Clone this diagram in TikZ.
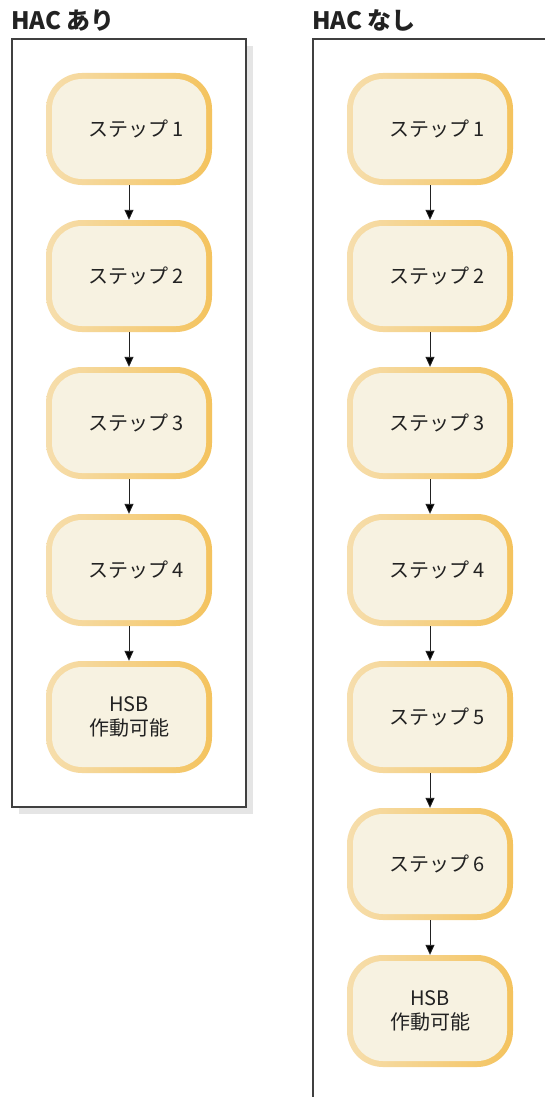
\documentclass[tikz,border=0pt]{standalone}
\usepackage{fontspec}
\setmainfont{Noto Sans CJK JP}
\usepackage{xcolor}
\usepackage{tikz}
\usetikzlibrary{positioning}
\usetikzlibrary{arrows.meta}

\definecolor{edgelight}{HTML}{F6DEAD}
\definecolor{edgedark}{HTML}{F4C35E}
\definecolor{boxfill}{HTML}{F7F2E1}
\definecolor{framegray}{HTML}{404040}
\definecolor{shadowgray}{HTML}{E5E5E5}
\definecolor{inkgray}{HTML}{222222}

\begin{document}
\begin{tikzpicture}
                [x=1pt, y=-1pt,
                 stepbox/.style = {minimum width=166pt, minimum height=112pt, inner sep=0pt,
                    rounded corners=36pt, left color=edgelight, right color=edgedark,
                    text=inkgray, font=\fontsize{20}{24}\selectfont, align=center,
                    path picture={\fill[boxfill, rounded corners=30pt]
                        ([shift={(6pt,6pt)}]path picture bounding box.south west) rectangle
                        ([shift={(-6pt,-6pt)}]path picture bounding box.north east);}},
                 flow/.style = {draw=inkgray, line width=0.9pt, -{Triangle[length=10pt,width=9pt]}},
                 title/.style = {anchor=base west, inner sep=0pt, text=inkgray,
                    font=\fontsize{24}{24}\selectfont\bfseries}]
                \useasboundingbox (0,0) rectangle (545,1097);
                % Titles
                \node[title] (tl) at (11,30) {HAC あり};
                \node[title] (tr) at (312,30) {HAC なし};
                % Frames
                \fill[shadowgray] (19,46) rectangle (253,814);
                \draw[framegray, line width=1.3pt, fill=white] (12,39) rectangle (246,807);
                \draw[framegray, line width=1.3pt] (313,1097) |- (545,39);
                % Steps with HAC
                \node[stepbox] (l1) at (129,129) {\hspace*{14pt}ステップ 1};
                \node[stepbox] (l2) at (129,276) {\hspace*{14pt}ステップ 2};
                \node[stepbox] (l3) at (129,423) {\hspace*{14pt}ステップ 3};
                \node[stepbox] (l4) at (129,570) {\hspace*{14pt}ステップ 4};
                \node[stepbox] (l5) at (129,717) {HSB\\作動可能};
                % Steps without HAC
                \node[stepbox] (r1) at (430,129) {\hspace*{14pt}ステップ 1};
                \node[stepbox] (r2) at (430,276) {\hspace*{14pt}ステップ 2};
                \node[stepbox] (r3) at (430,423) {\hspace*{14pt}ステップ 3};
                \node[stepbox] (r4) at (430,570) {\hspace*{14pt}ステップ 4};
                \node[stepbox] (r5) at (430,717) {\hspace*{14pt}ステップ 5};
                \node[stepbox] (r6) at (430,864) {\hspace*{14pt}ステップ 6};
                \node[stepbox] (r7) at (430,1011) {HSB\\作動可能};
                % Arrows
                \path[flow] (l1) edge (l2);
                \path[flow] (l2) edge (l3);
                \path[flow] (l3) edge (l4);
                \path[flow] (l4) edge (l5);
                \path[flow] (r1) edge (r2);
                \path[flow] (r2) edge (r3);
                \path[flow] (r3) edge (r4);
                \path[flow] (r4) edge (r5);
                \path[flow] (r5) edge (r6);
                \path[flow] (r6) edge (r7);
            \end{tikzpicture}
\end{document}
